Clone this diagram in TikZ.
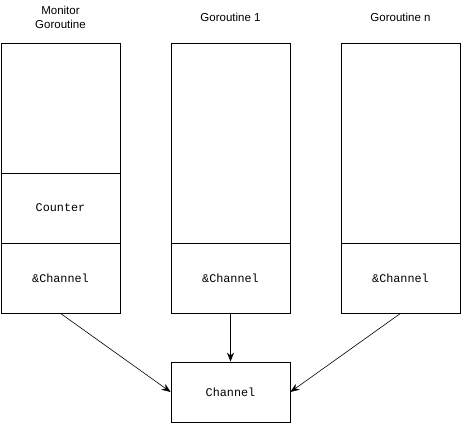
\documentclass[tikz,border=0pt]{standalone}
\usepackage{fontspec}
\setmainfont{Liberation Sans}
\newfontfamily\codefont{Liberation Mono}
\usetikzlibrary{positioning,arrows.meta}

\begin{document}
\begin{tikzpicture}[x=1pt, y=-1pt,
		cell/.style={draw, line width=0.8pt, minimum width=119pt, inner sep=0pt, font=\codefont\fontsize{11.8}{13}\selectfont},
		head/.style={align=center, font=\fontsize{11.5}{14}\selectfont},
		link/.style={line width=0.6pt, -{Stealth[length=9pt, width=7pt]}}]
			%%%%% START %%%%%
			\useasboundingbox (0, 0) rectangle (461, 424);
			
			% headings
			\node[head] (monhead) at (60.5, 17) {Monitor\\Goroutine};
			\node[head] (onehead) at (230.5, 17) {Goroutine 1};
			\node[head] (nhead) at (400.5, 17) {Goroutine n};
			
			% monitor goroutine
			\node[cell, minimum height=130pt] (montop) at (60.5, 108) {};
			\node[cell, minimum height=70pt] (counter) at (60.5, 208) {Counter};
			\node[cell, minimum height=70pt] (monchan) at (60.5, 278) {\&Channel};
			
			% goroutine 1
			\node[cell, minimum height=200pt] (onetop) at (230.5, 143) {};
			\node[cell, minimum height=70pt] (onechan) at (230.5, 278) {\&Channel};
			
			% goroutine n
			\node[cell, minimum height=200pt] (ntop) at (400.5, 143) {};
			\node[cell, minimum height=70pt] (nchan) at (400.5, 278) {\&Channel};
			
			% shared channel
			\node[cell, minimum height=60pt] (chan) at (230.5, 392) {Channel};
			
			\draw[link] (monchan.south) -- (chan.west);
			\draw[link] (onechan.south) -- (chan.north);
			\draw[link] (nchan.south) -- (chan.east);
			
			%%%%% END %%%%%
\end{tikzpicture}
\end{document}
